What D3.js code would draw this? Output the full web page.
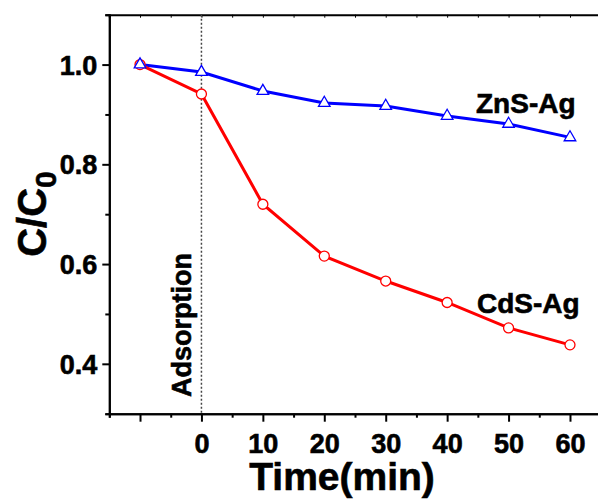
<!DOCTYPE html>
<html>
<head>
<meta charset="utf-8">
<script src="https://cdn.jsdelivr.net/npm/d3@7"></script>
<style>
html,body{margin:0;padding:0;background:#fff;}
svg{display:block;}
text{font-family:"Liberation Sans",Arial,sans-serif;font-weight:bold;fill:#000;stroke:#000;stroke-width:0.6px;}
</style>
</head>
<body>
<svg id="chart" width="598" height="499"></svg>
<script>
const times = [-10, 0, 10, 20, 30, 40, 50, 60];
const znsAg = [1.0, 0.985, 0.947, 0.923, 0.917, 0.897, 0.881, 0.854];
const cdsAg = [1.0, 0.941, 0.720, 0.616, 0.566, 0.523, 0.472, 0.438];
const xMajorTicks = [-10, 0, 10, 20, 30, 40, 50, 60];
const xMinorTicks = [-15, -5, 5, 15, 25, 35, 45, 55, 65];
const yMajorTicks = [0.4, 0.6, 0.8, 1.0];
const yMinorTicks = [0.3, 0.5, 0.7, 0.9, 1.1];
const seriesNames = ["ZnS-Ag", "CdS-Ag"];

const svg = d3.select("#chart");
const L = 109.3, R = 600.7, T = 14.7, B = 413.7;
const x = d3.scaleLinear().domain([-15, 65]).range([L, R]);
const y = d3.scaleLinear().domain([0.3, 1.1]).range([B, T]);

function styleAxis(g){
  g.selectAll("path.domain").attr("stroke","#000").attr("stroke-width",2);
  g.selectAll(".tick line").attr("stroke","#000").attr("stroke-width",2);
}

// bottom axis
const gxMinor = svg.append("g").attr("transform",`translate(0,${B})`)
  .call(d3.axisBottom(x).tickValues(xMinorTicks).tickSize(4).tickFormat(""));
styleAxis(gxMinor);
const gx = svg.append("g").attr("transform",`translate(0,${B})`)
  .call(d3.axisBottom(x).tickValues(xMajorTicks).tickSize(8).tickSizeOuter(0)
    .tickFormat(d => d >= 0 ? d : ""));
styleAxis(gx);
gx.selectAll(".tick text").attr("y",39.5).attr("dy",null)
  .style("font-size","27px").style("font-family","'Liberation Sans',Arial,sans-serif").style("font-weight","bold");

// top axis
const gt = svg.append("g").attr("transform",`translate(0,${T})`)
  .call(d3.axisBottom(x).tickValues(xMajorTicks.concat(xMinorTicks)).tickSize(3).tickFormat(""));
styleAxis(gt);
gt.selectAll(".tick line").attr("stroke-width",1);

// left axis
const gyMinor = svg.append("g").attr("transform",`translate(${L},0)`)
  .call(d3.axisLeft(y).tickValues(yMinorTicks).tickSize(4).tickFormat(""));
styleAxis(gyMinor);
const gy = svg.append("g").attr("transform",`translate(${L},0)`)
  .call(d3.axisLeft(y).tickValues(yMajorTicks).tickSize(7).tickSizeOuter(0).tickFormat(d3.format(".1f")));
styleAxis(gy);
gy.selectAll(".tick text").attr("x",-12).attr("dy","0.35em")
  .style("font-size","27px").style("font-family","'Liberation Sans',Arial,sans-serif").style("font-weight","bold");

// right axis
svg.append("line").attr("x1",R).attr("x2",R).attr("y1",T).attr("y2",B)
  .attr("stroke","#000").attr("stroke-width",2);

// adsorption dashed line
svg.append("line").attr("x1",x(0)).attr("x2",x(0)).attr("y1",T).attr("y2",B)
  .attr("stroke","#444").attr("stroke-width",1.5).attr("stroke-dasharray","2,2");

const line = d3.line().x((d,i)=>x(times[i])).y(d=>y(d));

svg.append("path").datum(znsAg).attr("d",line).attr("fill","none")
  .attr("stroke","#0000ff").attr("stroke-width",3);
svg.append("path").datum(cdsAg).attr("d",line).attr("fill","none")
  .attr("stroke","#ff0000").attr("stroke-width",3);

// circles
svg.append("g").selectAll("circle").data(cdsAg).join("circle")
  .attr("cx",(d,i)=>x(times[i])).attr("cy",d=>y(d)).attr("r",5)
  .attr("fill","#fff").attr("stroke","#ff0000").attr("stroke-width",1.3);

// triangles
const tri = d3.symbol().type(d3.symbolTriangle).size(58);
svg.append("g").selectAll("path").data(znsAg).join("path")
  .attr("d",tri).attr("transform",(d,i)=>`translate(${x(times[i])},${y(d)})`)
  .attr("fill","#fff").attr("stroke","#0000ff").attr("stroke-width",1.3);

// series labels
svg.append("text").attr("x",476).attr("y",113).style("font-size","28px").text(seriesNames[0]);
svg.append("text").attr("x",477).attr("y",313).style("font-size","28px").text(seriesNames[1]);

// adsorption label
svg.append("text").attr("transform","translate(191,397) rotate(-90)")
  .style("font-size","27px").text("Adsorption");

// axis titles
svg.append("text").attr("x",342).attr("y",490).attr("text-anchor","middle")
  .style("font-size","39px").text("Time(min)");
const yt = svg.append("text").attr("transform","translate(46,214) rotate(-90)")
  .attr("text-anchor","middle").style("font-size","40px");
yt.append("tspan").text("C/C");
yt.append("tspan").attr("dy",10).style("font-size","30px").text("0");
</script>
</body>
</html>
